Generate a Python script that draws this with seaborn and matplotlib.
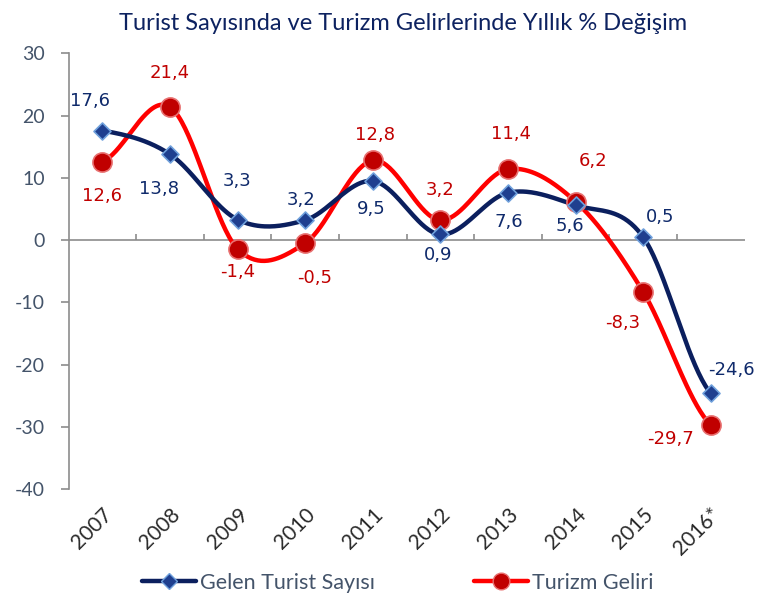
import numpy as np
import pandas as pd
import matplotlib
matplotlib.use("Agg")
import matplotlib.pyplot as plt
from matplotlib.lines import Line2D
import seaborn as sns

years = ["2007", "2008", "2009", "2010", "2011", "2012", "2013", "2014", "2015", "2016*"]
tourists = [17.6, 13.8, 3.3, 3.2, 9.5, 0.9, 7.6, 5.6, 0.5, -24.6]
revenue = [12.6, 21.4, -1.4, -0.5, 12.8, 3.2, 11.4, 6.2, -8.3, -29.7]
series_names = ["Gelen Turist Sayısı", "Turizm Geliri"]
title = "Turist Sayısında ve Turizm Gelirlerinde Yıllık % Değişim"
yticks = [30, 20, 10, 0, -10, -20, -30, -40]

sns.set_theme(style="white")
plt.rcParams["font.family"] = ["Lato", "DejaVu Sans"]
plt.rcParams["axes.unicode_minus"] = False

NAVY_LINE = "#0B1F5E"
NAVY_MARK = "#1F3F8F"
NAVY_EDGE = "#6FA0DC"
RED_LINE = "#FF0000"
RED_MARK = "#C00000"
RED_EDGE = "#E87070"
NAVY_TXT = "#0F2A6B"
RED_TXT = "#C00000"
AX_TXT = "#44546A"
SPINE = "#8C8C8C"


def smooth(vals, n=40):
    """Catmull-Rom style smoothing (like Excel smoothed lines)."""
    p = np.asarray(vals, dtype=float)
    k = len(p)
    m = np.empty(k)
    m[1:-1] = (p[2:] - p[:-2]) / 2.0
    m[0] = (p[1] - p[0]) / 2.0
    m[-1] = (p[-1] - p[-2]) / 2.0
    xs, ys = [], []
    for i in range(k - 1):
        t = np.linspace(0, 1, n, endpoint=(i == k - 2))
        h00 = 2 * t**3 - 3 * t**2 + 1
        h10 = t**3 - 2 * t**2 + t
        h01 = -2 * t**3 + 3 * t**2
        h11 = t**3 - t**2
        ys.append(h00 * p[i] + h10 * m[i] + h01 * p[i + 1] + h11 * m[i + 1])
        xs.append(i + t)
    return np.concatenate(xs), np.concatenate(ys)


fig = plt.figure(figsize=(7.58, 6.05), dpi=100)
ax = fig.add_axes([68.5 / 758, 1 - 489 / 605, 676 / 758, 435.6 / 605])

xpos = np.arange(len(years))
df = pd.DataFrame({"x": xpos, "tourists": tourists, "revenue": revenue})

ax.axhline(0, color=SPINE, lw=1.2, zorder=1)

for col, lc in [("revenue", RED_LINE), ("tourists", NAVY_LINE)]:
    sx, sy = smooth(df[col].values)
    sns.lineplot(x=sx, y=sy, ax=ax, color=lc, lw=3.2, sort=False, zorder=3)

sns.scatterplot(data=df, x="x", y="tourists", ax=ax, marker="D", s=75,
                color=NAVY_MARK, edgecolor=NAVY_EDGE, linewidth=1.2, zorder=5)
sns.scatterplot(data=df, x="x", y="revenue", ax=ax, marker="o", s=190,
                color=RED_MARK, edgecolor=RED_EDGE, linewidth=1.2, zorder=4)

# label offsets in points (dx, dy)
nav_off = [(-8.6, 21.6), (-8, -25), (0, 28), (-3, 14.5), (-1.4, -20),
           (-1.4, -15), (0.7, -21), (-4, -15), (12, 14.5), (15, 16.5)]
red_off = [(0, -24.5), (0, 24.5), (0, -17), (6.5, -25), (1.4, 18),
           (0, 21.6), (2, 25), (13, 29), (-14.4, -22.3), (-29, -10)]

def fmt(v):
    return f"{v:.1f}".replace(".", ",")

for i, v in enumerate(tourists):
    ax.annotate(fmt(v), (i, v), xytext=nav_off[i], textcoords="offset points",
                ha="center", va="center", fontsize=13, color=NAVY_TXT,
                family=["DejaVu Sans"], zorder=6)
for i, v in enumerate(revenue):
    ax.annotate(fmt(v), (i, v), xytext=red_off[i], textcoords="offset points",
                ha="center", va="center", fontsize=13, color=RED_TXT,
                family=["DejaVu Sans"], zorder=6)

ax.set_xlim(-0.5, len(years) - 0.5)
ax.set_ylim(-40, 30)
ax.set_yticks(yticks)
ax.set_yticklabels([str(t) for t in yticks])
ax.set_xticks(xpos)
ax.set_xticklabels(years, rotation=45, ha="right", rotation_mode="anchor")
ax.set_xlabel("")
ax.set_ylabel("")

for s in ["top", "right", "bottom"]:
    ax.spines[s].set_visible(False)
ax.spines["left"].set_color(SPINE)
ax.spines["left"].set_linewidth(1.2)

ax.tick_params(axis="y", left=True, length=6, width=1.2, color=SPINE,
               labelsize=14, labelcolor=AX_TXT, pad=11)
ax.tick_params(axis="x", bottom=False, length=0, labelsize=15,
               labelcolor="#2B2B2B", pad=11)

# category boundary ticks on the zero line
secx = ax.secondary_xaxis(40 / 70)
secx.set_xticks(np.arange(0.5, len(years) - 0.5, 1.0))
secx.tick_params(axis="x", direction="out", length=4.5, width=1.2,
                 color=SPINE, labelbottom=False, labeltop=False)
for s in ["top", "bottom", "left", "right"]:
    secx.spines[s].set_visible(False)
ax.set_zorder(2)

fig.text(403 / 758, 1 - 24 / 605, title, ha="center", va="center",
         fontsize=17, color="#0D2260")

handles = [
    Line2D([], [], color=NAVY_LINE, lw=3.2, marker="D", markersize=8,
           markerfacecolor=NAVY_MARK, markeredgecolor=NAVY_EDGE),
    Line2D([], [], color=RED_LINE, lw=3.2, marker="o", markersize=12,
           markerfacecolor=RED_MARK, markeredgecolor=RED_EDGE),
]
leg = fig.legend(handles, series_names, loc="center", bbox_to_anchor=(398 / 758, 1 - 583 / 605),
                 ncol=2, frameon=False, fontsize=15.5, handlelength=2.5,
                 columnspacing=4.6, handletextpad=0.2)
for t in leg.get_texts():
    t.set_color(AX_TXT)

fig.savefig("out.png", dpi=100)
